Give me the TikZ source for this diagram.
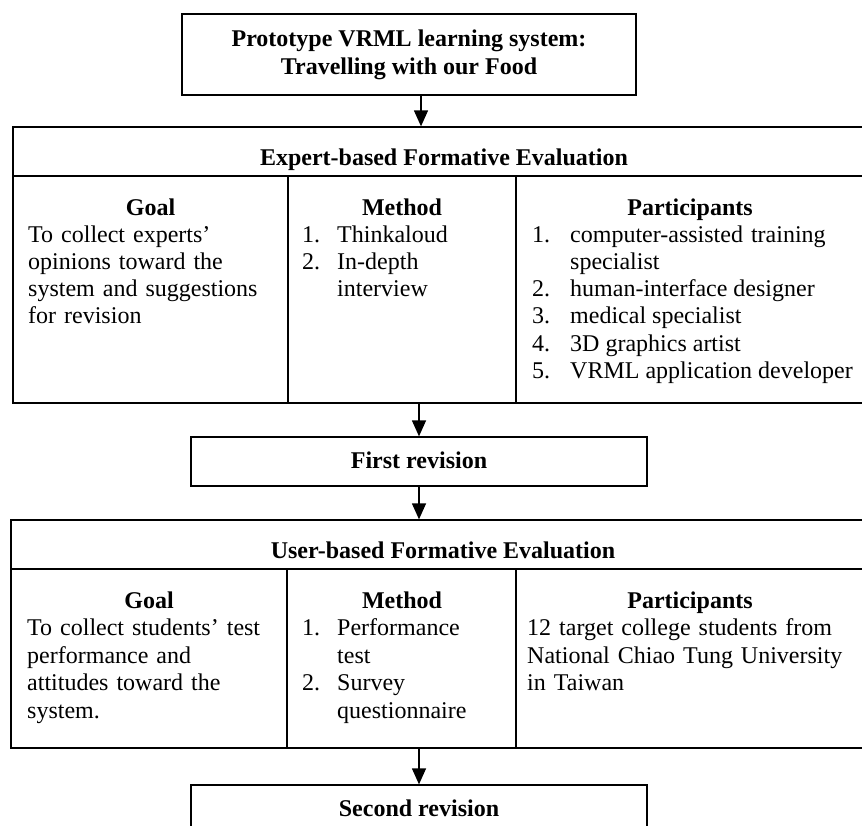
\documentclass[tikz,border=0pt]{standalone}
\usepackage{fontspec}
\setmainfont{Liberation Serif}
\usetikzlibrary{arrows.meta}
\begin{document}
\begin{tikzpicture}[x=1pt,y=-1pt,
  frame/.style={draw, line width=1.3pt, inner sep=0pt},
  body/.style={font=\fontsize{24}{27.3}\selectfont, inner sep=0pt, anchor=base west, align=left},
  bodyu/.style={font=\fontsize{24}{27.5}\selectfont, inner sep=0pt, anchor=base west, align=left},
  head/.style={font=\bfseries\fontsize{24}{28}\selectfont, inner sep=0pt, anchor=base},
  rule/.style={line width=1.3pt},
  flow/.style={line width=1.3pt, -{Triangle[length=16pt,width=14pt]}}]
\useasboundingbox (0,0) rectangle (862,825);
\clip (0,0) rectangle (862,825);

% top box
\node[frame, minimum width=454pt, minimum height=81pt, align=center,
      font=\bfseries\fontsize{24}{28}\selectfont] (top) at (409,54.5)
      {Prototype VRML learning system:\\Travelling with our Food};

% expert evaluation table
\node[frame, minimum width=862pt, minimum height=276pt] (exp) at (444,265) {};
\draw[rule] (13,176) -- (875,176);
\draw[rule] (288,176) -- (288,403);
\draw[rule] (516,176) -- (516,403);
\node[head] (exph) at (444,165) {Expert-based Formative Evaluation};
\node[head] (eg) at (150.5,215) {Goal};
\node[head] (em) at (402,215) {Method};
\node[head] (ep) at (690,215) {Participants};
\node[body, text width=255pt] (egt) at (28,242)
  {To collect experts'\\opinions toward the\\system and suggestions\\for revision};
\node[body] (em1n) at (302,242) {1.};
\node[body] (em1) at (337,242) {Thinkaloud};
\node[body] (em2n) at (302,269.3) {2.};
\node[body, text width=170pt] (em2) at (337,269.3) {In-depth\\interview};
\node[body] (ep1n) at (532,242) {1.};
\node[body, text width=300pt] (ep1) at (570,242) {computer-assisted training\\specialist};
\node[body] (ep2n) at (532,296.6) {2.};
\node[body] (ep2) at (570,296.6) {human-interface designer};
\node[body] (ep3n) at (532,323.9) {3.};
\node[body] (ep3) at (570,323.9) {medical specialist};
\node[body] (ep4n) at (532,351.2) {4.};
\node[body] (ep4) at (570,351.2) {3D graphics artist};
\node[body] (ep5n) at (532,378.5) {5.};
\node[body] (ep5) at (570,378.5) {VRML application developer};

\coordinate (a1) at (421,0);
\draw[flow] (top.south -| a1) -- (exp.north -| a1);

% first revision
\node[frame, minimum width=456pt, minimum height=49pt,
      font=\bfseries\fontsize{24}{28}\selectfont, text height=16pt, text depth=3pt]
      (fr) at (419,461.5) {First revision};
\draw[flow] (exp.south -| fr) -- (fr.north);

% user evaluation table
\node[frame, minimum width=864pt, minimum height=228pt] (usr) at (443,634) {};
\draw[rule] (11,569) -- (875,569);
\draw[rule] (287,569) -- (287,748);
\draw[rule] (516,569) -- (516,748);
\draw[flow] (fr.south) -- (usr.north -| fr);
\node[head] (uh) at (443,558) {User-based Formative Evaluation};
\node[head] (ug) at (149,608) {Goal};
\node[head] (um) at (402,608) {Method};
\node[head] (up) at (690,608) {Participants};
\node[bodyu, text width=255pt] (ugt) at (27,635.5)
  {To collect students' test\\performance and\\attitudes toward the\\system.};
\node[bodyu] (um1n) at (302,635.5) {1.};
\node[bodyu, text width=170pt] (um1) at (337,635.5) {Performance\\test};
\node[bodyu] (um2n) at (302,690.5) {2.};
\node[bodyu, text width=170pt] (um2) at (337,690.5) {Survey\\questionnaire};
\node[bodyu, text width=330pt] (upt) at (527,635.5)
  {12 target college students from\\National Chiao Tung University\\in Taiwan};

% second revision
\node[frame, minimum width=456pt, minimum height=49pt,
      font=\bfseries\fontsize{24}{28}\selectfont, text height=16pt, text depth=3pt]
      (sr) at (419,809.5) {Second revision};
\draw[flow] (usr.south -| sr) -- (sr.north);
\end{tikzpicture}
\end{document}
